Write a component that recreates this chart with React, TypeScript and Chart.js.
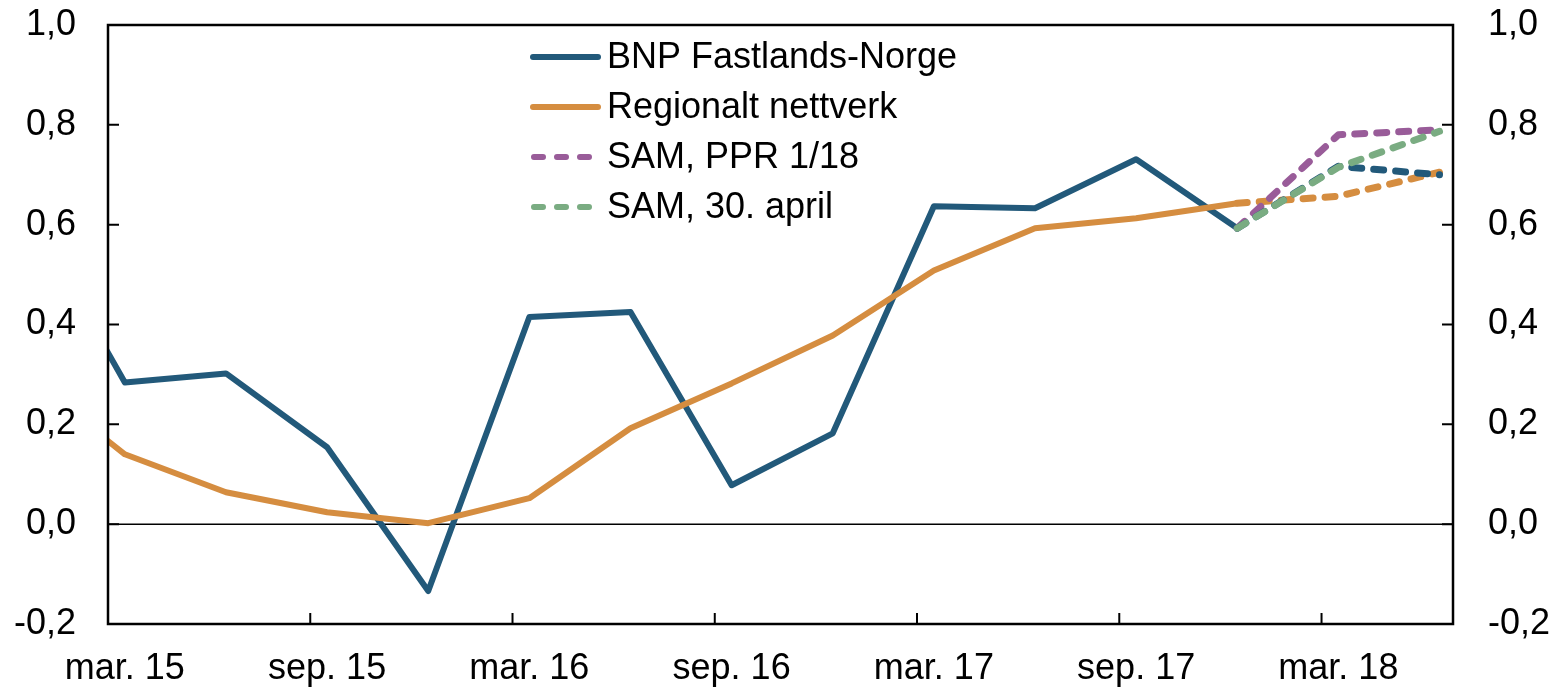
import React, { useEffect, useRef } from "react";
import { Chart, registerables } from "chart.js";

Chart.register(...registerables);

// Months counted from March 2015 (0 = mar. 15)
const quarterMonths = [-2.5, 0.5, 3.5, 6.5, 9.5, 12.5, 15.5, 18.5, 21.5, 24.5, 27.5, 30.5, 33.5];
const bnpValues = [0.64, 0.284, 0.302, 0.154, -0.134, 0.415, 0.425, 0.078, 0.182, 0.637, 0.633, 0.731, 0.593];
const regionalValues = [0.3, 0.14, 0.064, 0.024, 0.002, 0.052, 0.192, 0.282, 0.378, 0.508, 0.593, 0.613, 0.643];

const forecastMonths = [33.5, 36.5, 39.5];
const bnpForecast = [0.593, 0.717, 0.7];
const regionalForecast = [0.643, 0.657, 0.705];
const samPprValues = [0.593, 0.78, 0.79];
const samAprilValues = [0.593, 0.715, 0.787];

const xTickMonths = [0, 6, 12, 18, 24, 30, 36];
const xLabelMonths = [0.5, 6.5, 12.5, 18.5, 24.5, 30.5, 36.5];
const xTickLabels = ["mar. 15", "sep. 15", "mar. 16", "sep. 16", "mar. 17", "sep. 17", "mar. 18"];
const yTickValues = [-0.2, 0, 0.2, 0.4, 0.6, 0.8, 1.0];

const BLUE = "rgb(34,89,122)";
const ORANGE = "rgb(213,141,64)";
const PURPLE = "rgb(153,92,153)";
const GREEN = "rgb(122,172,130)";
const FONT_FAMILY = "'Liberation Sans', Arial, Helvetica, sans-serif";
const FONT_SIZE = 36;
const LINE_W = 6;
const DASH_W = 7;
const DASH = [10, 12];

const toPoints = (xs: number[], ys: number[]) => xs.map((x, i) => ({ x, y: ys[i] }));
const fmt = (v: number) => Number(v).toFixed(1).replace(".", ",");

const framePlugin = {
  id: "framePlugin",
  beforeDatasetsDraw(chart: any) {
    const { ctx, chartArea: a, scales } = chart;
    const y0 = scales.y.getPixelForValue(0);
    ctx.save();
    ctx.strokeStyle = "#000";
    ctx.lineWidth = 1.5;
    ctx.beginPath();
    ctx.moveTo(a.left, y0);
    ctx.lineTo(a.right, y0);
    ctx.stroke();
    ctx.restore();
  },
  afterDatasetsDraw(chart: any) {
    const { ctx, chartArea: a, scales } = chart;
    ctx.save();
    ctx.strokeStyle = "#000";
    ctx.lineWidth = 2;
    ctx.lineCap = "butt";
    yTickValues.forEach((v) => {
      const py = scales.y.getPixelForValue(v);
      ctx.beginPath();
      ctx.moveTo(a.left, py);
      ctx.lineTo(a.left + 11, py);
      ctx.moveTo(a.right, py);
      ctx.lineTo(a.right - 11, py);
      ctx.stroke();
    });
    xTickMonths.forEach((m) => {
      const px = scales.x.getPixelForValue(m);
      ctx.beginPath();
      ctx.moveTo(px, a.bottom);
      ctx.lineTo(px, a.bottom - 11);
      ctx.stroke();
    });
    ctx.lineWidth = 2.5;
    ctx.strokeRect(a.left, a.top, a.right - a.left, a.bottom - a.top);
    ctx.restore();
  },
  afterDraw(chart: any) {
    const { ctx } = chart;
    const items = chart.data.datasets.filter((d: any) => d.inLegend);
    ctx.save();
    ctx.font = `${FONT_SIZE}px ${FONT_FAMILY}`;
    ctx.textBaseline = "middle";
    ctx.textAlign = "left";
    items.forEach((d: any, i: number) => {
      const cy = 57 + i * 50;
      const dashed = d.borderDash && d.borderDash.length;
      ctx.strokeStyle = d.borderColor;
      ctx.lineWidth = dashed ? DASH_W - 1 : LINE_W;
      ctx.lineCap = "round";
      ctx.setLineDash(dashed ? [9, 14] : []);
      ctx.beginPath();
      ctx.moveTo(dashed ? 534 : 533, cy);
      ctx.lineTo(dashed ? 597 : 598, cy);
      ctx.stroke();
      ctx.setLineDash([]);
      ctx.fillStyle = "#000";
      ctx.fillText(d.label, 607, cy + 1);
    });
    ctx.restore();
  },
};

export default function App() {
  const canvasRef = useRef<HTMLCanvasElement | null>(null);

  useEffect(() => {
    document.body.style.margin = "0";
    const canvas = canvasRef.current;
    if (!canvas) return;
    const font = { family: FONT_FAMILY, size: FONT_SIZE };
    const common = {
      fill: false,
      pointRadius: 0,
      pointHoverRadius: 0,
      tension: 0,
      borderWidth: LINE_W,
      borderJoinStyle: "round" as const,
    };
    const dashed = { borderDash: DASH, borderCapStyle: "round" as const, borderWidth: DASH_W };
    const zeroPad = (s: any) => {
      s.paddingTop = 0;
      s.paddingBottom = 0;
      s.paddingLeft = 0;
      s.paddingRight = 0;
    };
    const chart = new Chart(canvas, {
      type: "line",
      data: {
        datasets: [
          {
            ...common,
            label: "BNP Fastlands-Norge",
            data: toPoints(quarterMonths, bnpValues),
            borderColor: BLUE,
            backgroundColor: BLUE,
            order: 5,
            inLegend: true,
          } as any,
          {
            ...common,
            label: "Regionalt nettverk",
            data: toPoints(quarterMonths, regionalValues),
            borderColor: ORANGE,
            backgroundColor: ORANGE,
            order: 4,
            inLegend: true,
          } as any,
          {
            ...common,
            ...dashed,
            label: "SAM, PPR 1/18",
            data: toPoints(forecastMonths, samPprValues),
            borderColor: PURPLE,
            backgroundColor: PURPLE,
            order: 2,
            inLegend: true,
          } as any,
          {
            ...common,
            ...dashed,
            label: "SAM, 30. april",
            data: toPoints(forecastMonths, samAprilValues),
            borderColor: GREEN,
            backgroundColor: GREEN,
            order: 0,
            inLegend: true,
          } as any,
          {
            ...common,
            ...dashed,
            label: "BNP Fastlands-Norge, anslag",
            data: toPoints(forecastMonths, bnpForecast),
            borderColor: BLUE,
            backgroundColor: BLUE,
            order: 1,
            inLegend: false,
          } as any,
          {
            ...common,
            ...dashed,
            label: "Regionalt nettverk, anslag",
            data: toPoints(forecastMonths, regionalForecast),
            borderColor: ORANGE,
            backgroundColor: ORANGE,
            order: 3,
            inLegend: false,
          } as any,
        ],
      },
      options: {
        animation: false,
        responsive: false,
        devicePixelRatio: 1,
        events: [],
        layout: { padding: { top: 25, left: 0, right: 0, bottom: 0 } },
        plugins: {
          legend: { display: false },
          tooltip: { enabled: false },
          title: { display: false },
        },
        scales: {
          x: {
            type: "linear",
            min: 0,
            max: 39.9,
            grid: { display: false, drawTicks: false },
            border: { display: false },
            afterBuildTicks: (s: any) => {
              s.ticks = xLabelMonths.map((v) => ({ value: v }));
            },
            afterFit: (s: any) => {
              s.height = 64;
              zeroPad(s);
            },
            ticks: {
              font,
              color: "#000",
              padding: 23,
              maxRotation: 0,
              autoSkip: false,
              callback: (_v: any, i: number) => xTickLabels[i],
            },
          },
          y: {
            type: "linear",
            position: "left",
            min: -0.2,
            max: 1.0,
            grid: { display: false, drawTicks: false },
            border: { display: false },
            afterBuildTicks: (s: any) => {
              s.ticks = yTickValues.map((v) => ({ value: v }));
            },
            afterFit: (s: any) => {
              s.width = 108;
              zeroPad(s);
            },
            ticks: { font, color: "#000", padding: 32, callback: (v: any) => fmt(v) },
          },
          y2: {
            type: "linear",
            position: "right",
            min: -0.2,
            max: 1.0,
            grid: { display: false, drawTicks: false },
            border: { display: false },
            afterBuildTicks: (s: any) => {
              s.ticks = yTickValues.map((v) => ({ value: v }));
            },
            afterFit: (s: any) => {
              s.width = 103;
              zeroPad(s);
            },
            ticks: { font, color: "#000", padding: 35, callback: (v: any) => fmt(v) },
          },
        },
      } as any,
      plugins: [framePlugin],
    });
    return () => chart.destroy();
  }, []);

  return (
    <div style={{ position: "absolute", left: 0, top: 0, width: 1556, height: 688, background: "#fff" }}>
      <canvas ref={canvasRef} width={1556} height={688} style={{ display: "block", width: 1556, height: 688 }} />
    </div>
  );
}
